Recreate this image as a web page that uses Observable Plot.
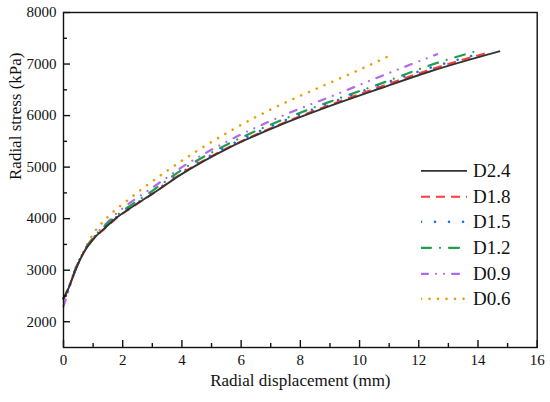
<!DOCTYPE html>
<html><head><meta charset="utf-8">
<script src="https://cdn.jsdelivr.net/npm/d3@7"></script>
<script src="https://cdn.jsdelivr.net/npm/@observablehq/plot@0.6"></script>
<style>
body{margin:0;background:#fff;}
</style></head><body><div id="wrap"></div>
<script>
// ---- data ----
const seriesNames = ["D2.4", "D1.8", "D1.5", "D1.2", "D0.9", "D0.6"];

const xD24 = [0, 0.15, 0.4, 0.7, 1.0, 1.4, 1.75, 2.4, 3.0, 3.95, 5.6, 7.25, 9.36, 10.71, 12.4, 14.75];
const yD24 = [2450, 2620, 3000, 3360, 3600, 3820, 4000, 4260, 4480, 4850, 5380, 5800, 6260, 6530, 6860, 7250];

const xD18 = [0, 0.15, 0.4, 0.7, 1.0, 1.4, 1.75, 2.4, 3.0, 3.95, 5.6, 7.25, 9.36, 10.71, 12.4, 14.36];
const yD18 = [2450, 2620, 3000, 3360, 3600, 3810, 3990, 4250, 4480, 4860, 5390, 5815, 6285, 6560, 6895, 7225];

const xD15 = [0, 0.15, 0.4, 0.7, 1.0, 1.4, 1.75, 2.4, 3.0, 3.95, 5.6, 7.25, 9.36, 10.71, 12.4, 13.92];
const yD15 = [2460, 2630, 3010, 3370, 3610, 3830, 4010, 4270, 4500, 4880, 5420, 5850, 6320, 6600, 6930, 7180];

const xD12 = [0, 0.15, 0.4, 0.7, 1.0, 1.4, 1.75, 2.4, 3.0, 3.95, 5.6, 7.25, 9.36, 10.71, 12.4, 13.85];
const yD12 = [2450, 2630, 3020, 3380, 3630, 3860, 4040, 4310, 4540, 4930, 5460, 5885, 6345, 6620, 6980, 7235];

const xD09 = [0, 0.15, 0.4, 0.7, 1.0, 1.4, 1.75, 2.4, 3.0, 3.95, 5.6, 7.25, 9.36, 10.71, 12.62];
const yD09 = [2300, 2560, 2990, 3370, 3630, 3880, 4080, 4370, 4600, 4980, 5520, 5960, 6445, 6760, 7190];

const xD06 = [0, 0.15, 0.4, 0.7, 1.0, 1.6, 2.15, 2.8, 3.5, 4.5, 5.75, 7.15, 8.7, 10.0, 11.12];
const yD06 = [2440, 2640, 3030, 3390, 3700, 4090, 4350, 4640, 4930, 5310, 5740, 6160, 6560, 6890, 7190];

const xMajorTicks = [0, 2, 4, 6, 8, 10, 12, 14, 16];
const xMinorTicks = [1, 3, 5, 7, 9, 11, 13, 15];
const yMajorTicks = [2000, 3000, 4000, 5000, 6000, 7000, 8000];
const yMinorTicks = [2500, 3500, 4500, 5500, 6500, 7500];

const xLabel = "Radial displacement (mm)";
const yLabel = "Radial stress (kPa)";

// ---- styling ----
const FONT = '"Liberation Serif", "Times New Roman", Tinos, monospace';
const styles = {
  "D2.4": {stroke: "#333333", dash: null, width: 1.9, cap: "butt"},
  "D1.8": {stroke: "#ff3b3b", dash: "9,6", width: 2, cap: "butt"},
  "D1.5": {stroke: "#1f6fe6", dash: "0.01,14", width: 2.6, cap: "round"},
  "D1.2": {stroke: "#1f9e50", dash: "10,9,0.01,9", width: 2.2, cap: "round"},
  "D0.9": {stroke: "#b468ea", dash: "7,8,0.01,8,0.01,8", width: 2.2, cap: "round"},
  "D0.6": {stroke: "#e6a100", dash: "0.01,8.5", width: 2.6, cap: "round"}
};
const seriesX = {"D2.4": xD24, "D1.8": xD18, "D1.5": xD15, "D1.2": xD12, "D0.9": xD09, "D0.6": xD06};
const seriesY = {"D2.4": yD24, "D1.8": yD18, "D1.5": yD15, "D1.2": yD12, "D0.9": yD09, "D0.6": yD06};

const W = 550, H = 402, mL = 63, mR = 13.3, mT = 12, mB = 55;
const plotH = H - mT - mB, plotW = W - mL - mR;

const lineMarks = seriesNames.slice().reverse().map(name => {
  const xs = seriesX[name], ys = seriesY[name];
  const rows = xs.map((x, i) => ({x, y: ys[i]}));
  const s = styles[name];
  return Plot.line(rows, {x: "x", y: "y", curve: "monotone-x", stroke: s.stroke,
    strokeWidth: s.width, strokeDasharray: s.dash, strokeLinecap: s.cap});
});

const chart = Plot.plot({
  width: W, height: H,
  marginLeft: mL, marginRight: mR, marginTop: mT, marginBottom: mB,
  x: {domain: [0, 16]},
  y: {domain: [1500, 8000]},
  style: {fontSize: "15px", color: "#111", background: "#fff", fontFamily: FONT},
  marks: [
    ...lineMarks,
    Plot.tickX(xMajorTicks, {x: d => d, insetTop: plotH - 7, stroke: "#111", strokeWidth: 1.4}),
    Plot.tickX(xMinorTicks, {x: d => d, insetTop: plotH - 4, stroke: "#111", strokeWidth: 1.4}),
    Plot.tickY(yMajorTicks, {y: d => d, insetRight: plotW - 7, stroke: "#111", strokeWidth: 1.4}),
    Plot.tickY(yMinorTicks, {y: d => d, insetRight: plotW - 4, stroke: "#111", strokeWidth: 1.4}),
    Plot.axisX({ticks: xMajorTicks, tickSize: 0, tickPadding: 7, label: null, fontSize: 15, fontFamily: FONT, tickFormat: d => String(d)}),
    Plot.axisY({ticks: yMajorTicks, tickSize: 0, tickPadding: 7, label: null, fontSize: 15, fontFamily: FONT, tickFormat: d => String(d)}),
    Plot.frame({stroke: "#111", strokeWidth: 1.4}),
    Plot.text([xLabel], {frameAnchor: "bottom", dy: 38, fontSize: 17, fill: "#111", fontFamily: FONT}),
    Plot.text([yLabel], {frameAnchor: "left", dx: -48, rotate: -90, fontSize: 17, fill: "#111", fontFamily: FONT})
  ]
});
chart.querySelectorAll("text").forEach(t => { t.style.fontFamily = FONT; });

const wrap = document.getElementById("wrap");
wrap.style.position = "relative";
wrap.style.width = W + "px";
wrap.style.height = H + "px";
wrap.style.fontFamily = FONT;
wrap.appendChild(chart);

// legend overlay
const legend = document.createElement("div");
legend.style.position = "absolute";
legend.style.left = "421px";
legend.style.top = "158px";
for (const name of seriesNames) {
  const s = styles[name];
  const row = document.createElement("div");
  row.style.display = "flex";
  row.style.alignItems = "center";
  row.style.height = "25.7px";
  const svg = d3.create("svg").attr("width", 46).attr("height", 25.7).style("display", "block");
  svg.append("line").attr("x1", 0).attr("x2", 46).attr("y1", 12.85).attr("y2", 12.85)
    .attr("stroke", s.stroke).attr("stroke-width", s.width)
    .attr("stroke-dasharray", s.dash).attr("stroke-linecap", s.cap);
  row.appendChild(svg.node());
  const span = document.createElement("span");
  span.textContent = name;
  span.style.fontFamily = FONT;
  span.style.fontSize = "19px";
  span.style.marginLeft = "6px";
  span.style.color = "#111";
  span.style.lineHeight = "25.7px";
  row.appendChild(span);
  legend.appendChild(row);
}
wrap.appendChild(legend);
</script>
</body></html>
